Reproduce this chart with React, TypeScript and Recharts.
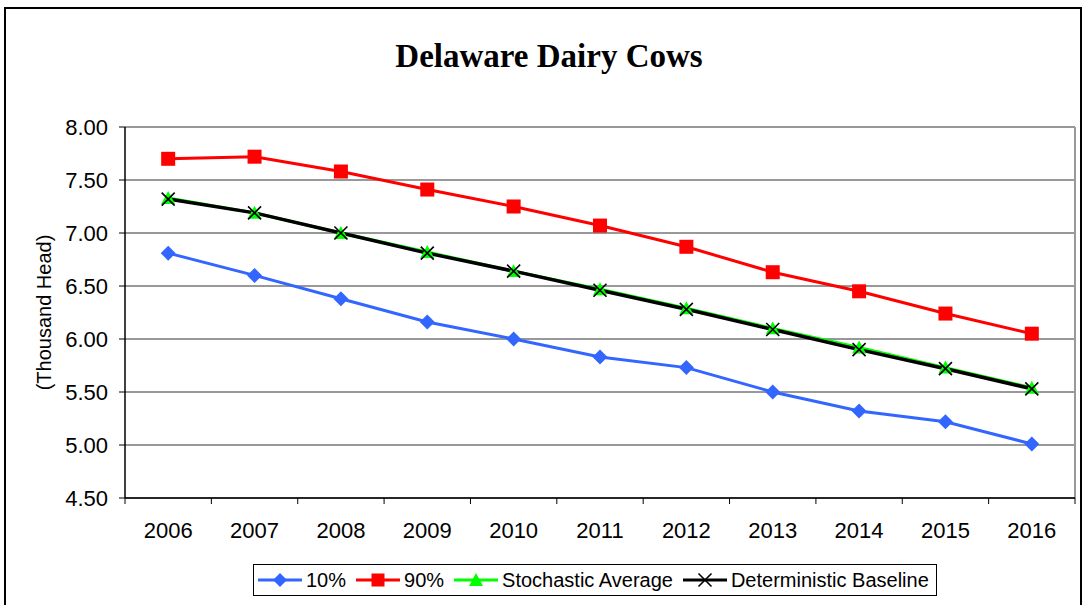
import React from "react";
import {
  CartesianGrid,
  Legend,
  Line,
  LineChart,
  ReferenceLine,
  XAxis,
  YAxis,
} from "recharts";

// Delaware dairy cows, thousand head, 2006-2016
const years = [2006, 2007, 2008, 2009, 2010, 2011, 2012, 2013, 2014, 2015, 2016];
const p10 = [6.81, 6.6, 6.38, 6.16, 6.0, 5.83, 5.73, 5.5, 5.32, 5.22, 5.01];
const p90 = [7.7, 7.72, 7.58, 7.41, 7.25, 7.07, 6.87, 6.63, 6.45, 6.24, 6.05];
const stochAvg = [7.33, 7.19, 7.0, 6.82, 6.64, 6.47, 6.29, 6.1, 5.92, 5.73, 5.54];
const baseline = [7.32, 7.19, 7.0, 6.81, 6.64, 6.46, 6.28, 6.09, 5.9, 5.72, 5.53];
const yTicks = [4.5, 5.0, 5.5, 6.0, 6.5, 7.0, 7.5, 8.0];

const BLUE = "#3366FF";
const RED = "#FF0000";
const GREEN = "#00FF00";
const SANS = '"Liberation Sans", Arial, sans-serif';

const W = 1086;
const H = 605;
const MARGIN = { top: 127, right: 11, bottom: 35, left: 0 };
const Y_W = 125;
const PLOT_W = W - MARGIN.left - MARGIN.right - Y_W;

const data = years.map((year, i) => ({
  year,
  p10: p10[i],
  p90: p90[i],
  avg: stochAvg[i],
  base: baseline[i],
}));

// tick marks sit between the years, labels in the middle of each slot
const xTicks = [...years.map((y) => y - 0.5), years[years.length - 1] + 0.5];

function YearTick(props: any) {
  const { x, y, payload } = props;
  const label = payload.value + 0.5;
  if (label > years[years.length - 1]) return null;
  const step = PLOT_W / years.length;
  return (
    <text x={x + step / 2} y={y} dy="0.71em" textAnchor="middle" fill="#000" fontSize={22} fontFamily={SANS}>
      {label}
    </text>
  );
}

function YLabel({ viewBox }: any) {
  if (!viewBox) return null;
  const cx = viewBox.x + 44;
  const cy = viewBox.y + viewBox.height / 2;
  return (
    <text
      x={cx}
      y={cy}
      transform={`rotate(-90 ${cx} ${cy})`}
      textAnchor="middle"
      dominantBaseline="central"
      fontSize={20}
      fontFamily={SANS}
      fill="#000"
    >
      (Thousand Head)
    </text>
  );
}

const diamond = (cx: number, cy: number, r = 7.5) =>
  `M${cx},${cy - r}L${cx + r},${cy}L${cx},${cy + r}L${cx - r},${cy}Z`;
const triangle = (cx: number, cy: number, r = 7) =>
  `M${cx},${cy - r}L${cx + r},${cy + r * 0.85}L${cx - r},${cy + r * 0.85}Z`;
const cross = (cx: number, cy: number, r = 6.5) =>
  `M${cx - r},${cy - r}L${cx + r},${cy + r}M${cx + r},${cy - r}L${cx - r},${cy + r}`;

const DiamondDot = ({ cx, cy }: any) =>
  cx == null ? null : <path d={diamond(cx, cy)} fill={BLUE} />;
const SquareDot = ({ cx, cy }: any) =>
  cx == null ? null : <rect x={cx - 7} y={cy - 7} width={14} height={14} fill={RED} />;
const TriangleDot = ({ cx, cy }: any) =>
  cx == null ? null : <path d={triangle(cx, cy)} fill={GREEN} />;
const CrossDot = ({ cx, cy }: any) =>
  cx == null ? null : <path d={cross(cx, cy)} stroke="#000" strokeWidth={1.6} fill="none" />;

const legendItems = [
  { name: "10%", color: BLUE, marker: (x: number, y: number) => <path d={diamond(x, y, 7)} fill={BLUE} /> },
  { name: "90%", color: RED, marker: (x: number, y: number) => <rect x={x - 6.5} y={y - 6.5} width={13} height={13} fill={RED} /> },
  { name: "Stochastic Average", color: GREEN, marker: (x: number, y: number) => <path d={triangle(x, y)} fill={GREEN} /> },
  {
    name: "Deterministic Baseline",
    color: "#000",
    marker: (x: number, y: number) => <path d={cross(x, y)} stroke="#000" strokeWidth={1.6} fill="none" />,
  },
];

function LegendBox() {
  return (
    <div
      style={{
        boxSizing: "border-box",
        height: 32,
        border: "1px solid #000",
        display: "flex",
        alignItems: "center",
        paddingLeft: 4,
        fontFamily: SANS,
        fontSize: 20,
        color: "#000",
        background: "#fff",
      }}
    >
      {legendItems.map((it) => (
        <div key={it.name} style={{ display: "flex", alignItems: "center", marginRight: 10 }}>
          <svg width={44} height={20} style={{ marginRight: 4 }}>
            <line x1={0} y1={10} x2={44} y2={10} stroke={it.color} strokeWidth={3} />
            {it.marker(22, 10)}
          </svg>
          <span style={{ whiteSpace: "nowrap" }}>{it.name}</span>
        </div>
      ))}
    </div>
  );
}

export default function App() {
  return (
    <div style={{ position: "absolute", left: 0, top: 0, width: W, height: H, background: "#fff", overflow: "hidden" }}>
      <div
        style={{
          position: "absolute",
          left: 4,
          top: 7,
          width: 1078,
          height: 640,
          border: "2px solid #000",
          boxSizing: "border-box",
        }}
      />
      <div
        style={{
          position: "absolute",
          left: 6,
          top: 34,
          width: W,
          textAlign: "center",
          fontFamily: '"Liberation Serif", "Times New Roman", serif',
          fontWeight: "bold",
          fontSize: 33,
          lineHeight: "44px",
          color: "#000",
        }}
      >
        Delaware Dairy Cows
      </div>
      <div style={{ position: "absolute", left: 0, top: 0 }}>
        <LineChart width={W} height={H} data={data} margin={MARGIN}>
          <CartesianGrid vertical={false} stroke="#333" strokeWidth={1} />
          <XAxis
            dataKey="year"
            type="number"
            domain={[xTicks[0], xTicks[xTicks.length - 1]]}
            ticks={xTicks}
            interval={0}
            height={40}
            tickSize={6}
            tickMargin={18}
            tick={<YearTick />}
            axisLine={{ stroke: "#000", strokeWidth: 1.5 }}
            tickLine={{ stroke: "#000" }}
          />
          <YAxis
            type="number"
            domain={[4.5, 8]}
            ticks={yTicks}
            interval={0}
            width={Y_W}
            tickSize={6}
            tickMargin={11}
            tickFormatter={(v: number) => v.toFixed(2)}
            tick={{ fill: "#000", fontSize: 22, fontFamily: SANS }}
            axisLine={{ stroke: "#000", strokeWidth: 1.5 }}
            tickLine={{ stroke: "#000" }}
            label={<YLabel />}
          />
          <ReferenceLine y={8} stroke="#999" strokeWidth={1.5} />
          <ReferenceLine x={xTicks[xTicks.length - 1]} stroke="#999" strokeWidth={2} />
          <Legend
            verticalAlign="bottom"
            content={() => <LegendBox />}
            wrapperStyle={{ left: 253, top: 564, bottom: "auto", width: 684, height: 32 }}
          />
          <Line dataKey="p10" stroke={BLUE} strokeWidth={3} dot={<DiamondDot />} activeDot={false} isAnimationActive={false} />
          <Line dataKey="p90" stroke={RED} strokeWidth={3} dot={<SquareDot />} activeDot={false} isAnimationActive={false} />
          <Line dataKey="avg" stroke={GREEN} strokeWidth={3} dot={<TriangleDot />} activeDot={false} isAnimationActive={false} />
          <Line dataKey="base" stroke="#000" strokeWidth={3.5} dot={<CrossDot />} activeDot={false} isAnimationActive={false} />
        </LineChart>
      </div>
    </div>
  );
}
